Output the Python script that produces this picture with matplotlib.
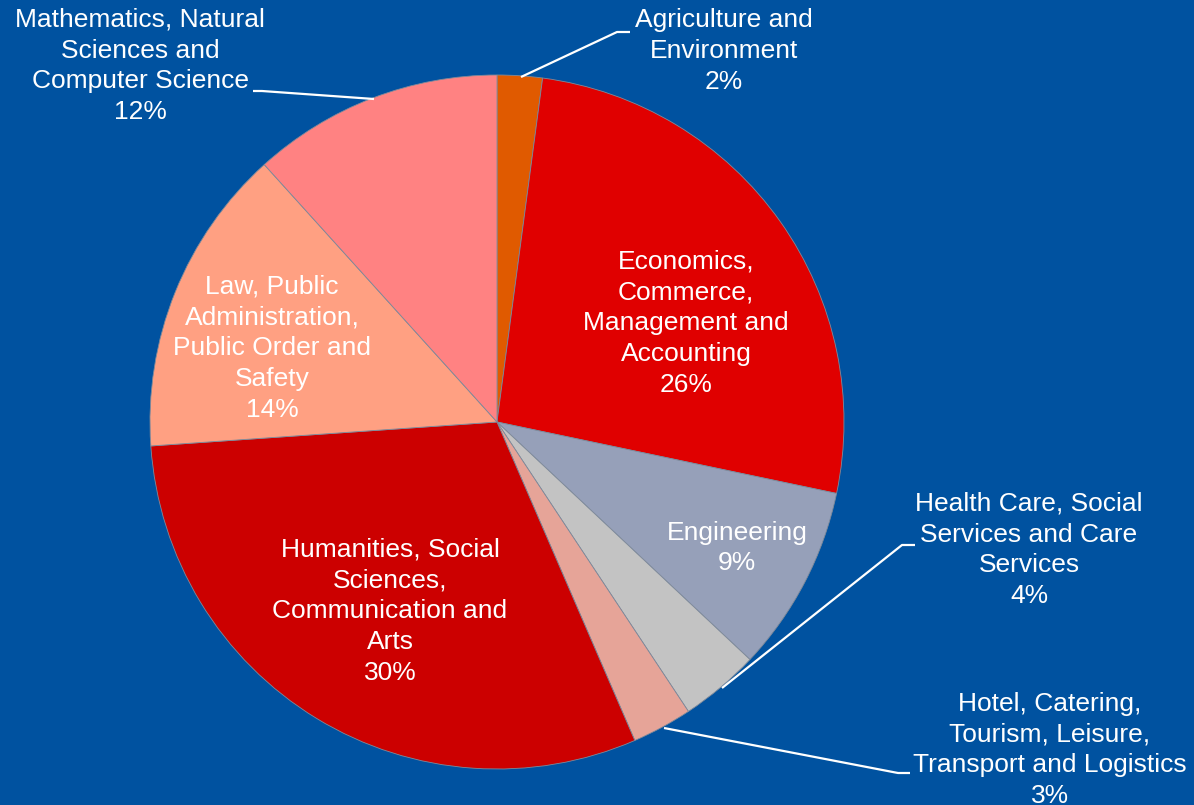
import numpy as np
import matplotlib.pyplot as plt

plt.rcParams['font.family'] = ['Liberation Sans', 'DejaVu Sans']

# data
fields = ['Agriculture and\nEnvironment',
          'Economics,\nCommerce,\nManagement and\nAccounting',
          'Engineering',
          'Health Care, Social\nServices and Care\nServices',
          'Hotel, Catering,\nTourism, Leisure,\nTransport and Logistics',
          'Humanities, Social\nSciences,\nCommunication and\nArts',
          'Law, Public\nAdministration,\nPublic Order and\nSafety',
          'Mathematics, Natural\nSciences and\nComputer Science']
shares = [2.1, 26.2, 8.7, 3.7, 2.8, 30.4, 14.4, 11.7]
colors = ['#E05A00', '#E00000', '#96A0B9', '#C3C3C3', '#E6A498',
          '#CC0000', '#FFA082', '#FF8282']

# layout (pixel coords, y measured from top)
bg = '#0052A0'
W, H = 1194, 805
cx, cy, rad = 497, 422, 347
label_pos = [(724, 51), (686, 323), (737, 548), (1029, 550),
             (1050, 750), (390, 611), (272, 348), (140, 66)]
# leader lines: pie edge -> elbow -> label end
leaders = {0: [(521, 77), (617, 32), (630, 32)],
           3: [(722, 688), (902, 545), (915, 545)],
           4: [(664, 728), (898, 773), (910, 773)],
           7: [(374, 99), (262, 91), (253, 91)]}

fig = plt.figure(figsize=(W / 100, H / 100), dpi=100)
fig.patch.set_facecolor(bg)
ax = fig.add_axes([0, 0, 1, 1])
ax.set_facecolor(bg)

ax.pie(shares, colors=colors, startangle=90, counterclock=False,
       center=(cx, H - cy), radius=rad, frame=True,
       wedgeprops=dict(edgecolor='#7f8a9a', linewidth=0.6))
ax.set_xlim(0, W)
ax.set_ylim(0, H)
ax.axis('off')

for i, (name, s) in enumerate(zip(fields, shares)):
    x, y = label_pos[i]
    ax.text(x, H - y, '%s\n%d%%' % (name, round(s)), color='white',
            fontsize=19, ha='center', va='center', linespacing=1.36)
    if i in leaders:
        pts = np.array(leaders[i], dtype=float)
        ax.plot(pts[:, 0], H - pts[:, 1], color='white', lw=1.6,
                solid_capstyle='butt')

fig.savefig('out.png', dpi=100, facecolor=bg)
